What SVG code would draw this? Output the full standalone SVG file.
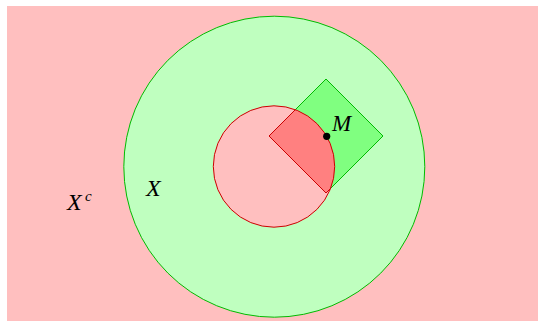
<svg xmlns="http://www.w3.org/2000/svg" width="538" height="321" viewBox="0 0 538 321">
<style>
.lbl{font-family:"Liberation Serif","Times New Roman",serif;font-style:italic;fill:#000}
.gs{stroke:#00bb00;stroke-width:1}
.rs{stroke:#cc0000;stroke-width:1}
</style>
<defs>
<clipPath id="cc"><circle cx="274" cy="166.5" r="60.7"/></clipPath>
</defs>
<g id="complement">
<rect x="7" y="6" width="531" height="315" fill="#ffbfbf"/>
<text class="lbl" x="67" y="210" font-size="24">X</text>
<text class="lbl" x="85" y="201" font-size="15">c</text>
</g>
<g id="setX">
<circle class="gs" cx="274.3" cy="166.7" r="150.5" fill="#bfffbf"/>
<text class="lbl" x="146" y="196" font-size="24">X</text>
</g>
<g id="ball">
<circle cx="274" cy="166.5" r="60.7" fill="#ffbfbf"/>
</g>
<g id="square">
<polygon class="gs" points="269,136 326,79 383,136 326,193" fill="#80ff80"/>
</g>
<g id="overlap">
<polygon class="rs" points="269,136 326,79 383,136 326,193" fill="#ff8080" clip-path="url(#cc)"/>
<circle class="rs" cx="274" cy="166.5" r="60.7" fill="none"/>
</g>
<g id="pointM">
<circle cx="326.7" cy="136.3" r="3.6" fill="#000"/>
<text class="lbl" x="332" y="131" font-size="23">M</text>
</g>
</svg>
